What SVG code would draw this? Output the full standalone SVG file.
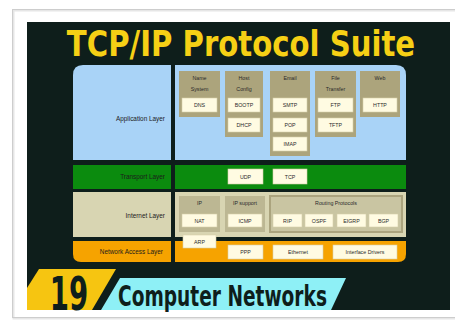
<svg xmlns="http://www.w3.org/2000/svg" width="455" height="324" viewBox="0 0 455 324">
<style>
.lbl{font-family:"Liberation Sans",Arial,sans-serif;font-size:6.4px;fill:#1c1c1c;}
.bt{font-family:"Liberation Sans",Arial,sans-serif;font-size:5.3px;fill:#2a2a2a;text-anchor:middle;}
.kh{fill:#aca47c;}
.ip{fill:#bcb793;}
.cr{fill:#fffbe2;stroke:#d6d0aa;stroke-width:0.6;}
.big{font-family:"DejaVu Sans",sans-serif;font-weight:bold;}
</style>
<rect x="0" y="0" width="455" height="324" fill="#ffffff"/>
<rect x="13.5" y="10.5" width="450" height="308" fill="#ffffff" stroke="#e6e6e6" stroke-width="2"/>
<rect x="12.5" y="9.5" width="450" height="308" fill="none" stroke="#cdcdcd" stroke-width="1"/>
<rect x="27" y="22" width="423" height="288" fill="#0e1e1b"/>
<text class="big" transform="translate(241,56) scale(0.833,1)" x="0" y="0" text-anchor="middle" font-size="35" fill="#f6d015">TCP/IP Protocol Suite</text>

<g id="application-layer">
<path d="M73,160 V75 Q73,65 83,65 H171 V160 Z" fill="#a9d3f7"/>
<path d="M175,65 H396 Q406,65 406,75 V160 H175 Z" fill="#a9d3f7"/>
<text class="lbl" x="165" y="121" text-anchor="end">Application Layer</text>
</g>
<g id="transport-layer">
<rect x="73" y="165" width="98" height="24" fill="#0b8b0e"/>
<rect x="175" y="165" width="231" height="24" fill="#0b8b0e"/>
<text class="lbl" x="165" y="179" text-anchor="end">Transport Layer</text>
</g>
<g id="internet-layer">
<rect x="73" y="192" width="98" height="45" fill="#d8d5b2"/>
<rect x="175" y="192" width="231" height="45" fill="#d8d5b2"/>
<text class="lbl" x="165" y="218" text-anchor="end">Internet Layer</text>
</g>
<g id="network-access-layer">
<path d="M73,241 H171 V262 H81 Q73,262 73,254 Z" fill="#f6a300"/>
<path d="M175,241 H406 V254 Q406,262 398,262 H175 Z" fill="#f6a300"/>
<text class="lbl" x="163" y="254" text-anchor="end">Network Access Layer</text>
</g>

<g id="name-system">
<rect class="kh" x="179" y="71" width="41" height="46"/>
<text class="bt" x="199.5" y="80">Name</text>
<text class="bt" x="199.5" y="91">System</text>
<rect class="cr" x="182" y="98" width="35" height="14"/>
<text class="bt" x="199.5" y="107">DNS</text>
</g>
<g id="host-config">
<rect class="kh" x="225" y="71" width="38" height="66"/>
<text class="bt" x="244" y="80">Host</text>
<text class="bt" x="244" y="91">Config</text>
<rect class="cr" x="228" y="98" width="32" height="14"/>
<text class="bt" x="244" y="107">BOOTP</text>
<rect class="cr" x="228" y="118" width="32" height="14"/>
<text class="bt" x="244" y="127">DHCP</text>
</g>
<g id="email">
<rect class="kh" x="270" y="71" width="40" height="85"/>
<text class="bt" x="290" y="80">Email</text>
<rect class="cr" x="273" y="98" width="34" height="14"/>
<text class="bt" x="290" y="107">SMTP</text>
<rect class="cr" x="273" y="118" width="34" height="14"/>
<text class="bt" x="290" y="127">POP</text>
<rect class="cr" x="273" y="137" width="34" height="14"/>
<text class="bt" x="290" y="146">IMAP</text>
</g>
<g id="file-transfer">
<rect class="kh" x="315" y="71" width="41" height="66"/>
<text class="bt" x="335.5" y="80">File</text>
<text class="bt" x="335.5" y="91">Transfer</text>
<rect class="cr" x="318" y="98" width="35" height="14"/>
<text class="bt" x="335.5" y="107">FTP</text>
<rect class="cr" x="318" y="118" width="35" height="14"/>
<text class="bt" x="335.5" y="127">TFTP</text>
</g>
<g id="web">
<rect class="kh" x="360" y="71" width="40" height="46"/>
<text class="bt" x="380" y="80">Web</text>
<rect class="cr" x="363" y="98" width="34" height="14"/>
<text class="bt" x="380" y="107">HTTP</text>
</g>

<g id="udp">
<rect class="cr" x="228" y="169" width="35" height="15"/>
<text class="bt" x="245.5" y="178.5">UDP</text>
</g>
<g id="tcp">
<rect class="cr" x="273" y="169" width="34" height="15"/>
<text class="bt" x="290" y="178.5">TCP</text>
</g>

<g id="ip">
<rect class="ip" x="179" y="196" width="41" height="36"/>
<text class="bt" x="199.5" y="205">IP</text>
<rect class="cr" x="182" y="214" width="35" height="13"/>
<text class="bt" x="199.5" y="222.5">NAT</text>
</g>
<g id="ip-support">
<rect class="ip" x="225" y="196" width="40" height="36"/>
<text class="bt" x="245" y="205">IP support</text>
<rect class="cr" x="228" y="214" width="34" height="13"/>
<text class="bt" x="245" y="222.5">ICMP</text>
</g>
<g id="routing-protocols">
<rect x="270" y="196" width="132" height="36" fill="#c9c5a2" stroke="#aba47e" stroke-width="2"/>
<text class="bt" x="336" y="205">Routing Protocols</text>
<rect class="cr" x="273" y="214" width="29" height="13"/>
<text class="bt" x="287.5" y="222.5">RIP</text>
<rect class="cr" x="305" y="214" width="28" height="13"/>
<text class="bt" x="319" y="222.5">OSPF</text>
<rect class="cr" x="337" y="214" width="29" height="13"/>
<text class="bt" x="351.5" y="222.5">EIGRP</text>
<rect class="cr" x="369" y="214" width="29" height="13"/>
<text class="bt" x="383.5" y="222.5">BGP</text>
</g>
<g id="arp">
<rect class="cr" x="183" y="235" width="33" height="13"/>
<text class="bt" x="199.5" y="243.5">ARP</text>
</g>

<g id="ppp">
<rect class="cr" x="228" y="245" width="35" height="14"/>
<text class="bt" x="245.5" y="254">PPP</text>
</g>
<g id="ethernet">
<rect class="cr" x="273" y="245" width="50" height="14"/>
<text class="bt" x="298" y="254">Ethernet</text>
</g>
<g id="interface-drivers">
<rect class="cr" x="333" y="245" width="64" height="14"/>
<text class="bt" x="365" y="254">Interface Drivers</text>
</g>

<g id="connectors"></g>

<g id="banner">
<polygon points="39,269 116,269 92,310 27,310 27,288" fill="#f6c511"/>
<polygon points="120,278 346,278 331,310 101,310" fill="#8ef0f6"/>
<text class="big" transform="translate(69,310) scale(0.6,1)" x="0" y="0" text-anchor="middle" font-size="46" fill="#0e1e1b">19</text>
<text class="big" transform="translate(118,306) scale(0.664,1)" x="0" y="0" font-size="28" fill="#0e1e1b">Computer Networks</text>
</g>
</svg>
